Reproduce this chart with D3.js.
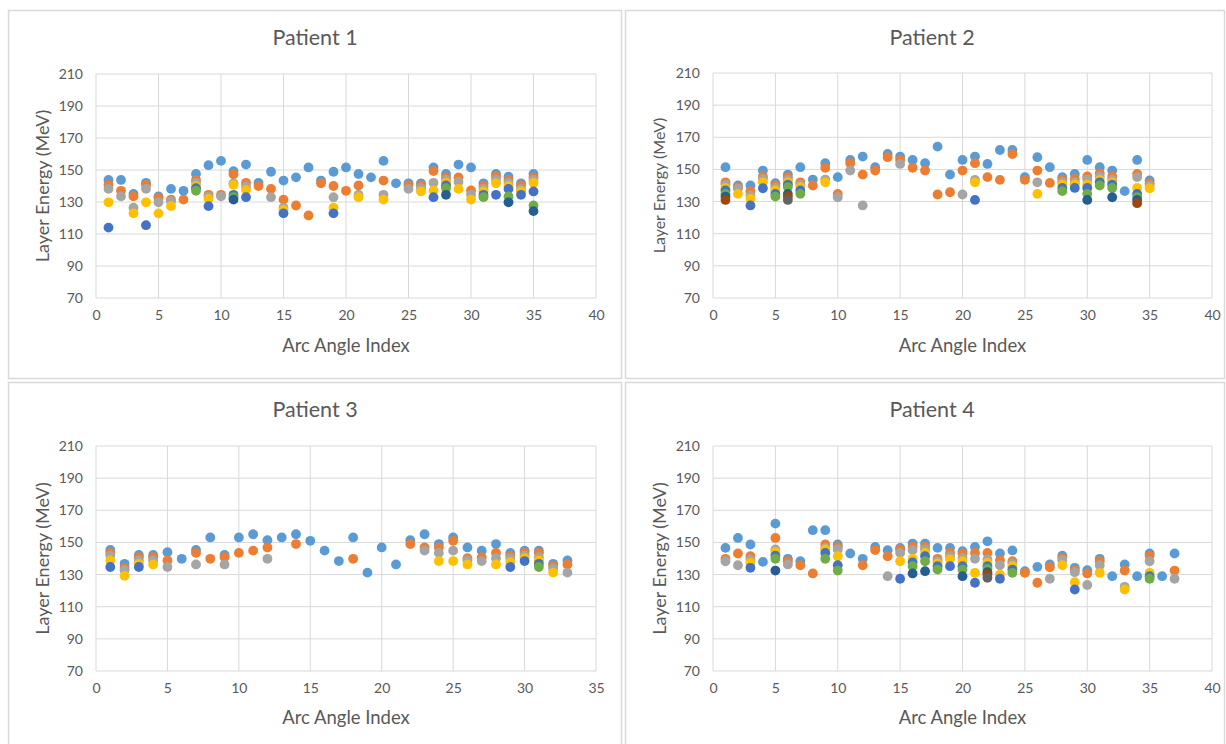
<!DOCTYPE html>
<html><head><meta charset="utf-8">
<script src="https://cdn.jsdelivr.net/npm/d3@7"></script>
<style>body{margin:0;background:#fff;} text{font-family:Lato,"Open Sans",sans-serif;}</style>
</head><body><svg id="c" width="1226" height="744"></svg>
<script>
// Layer energies (MeV) for each arc angle index (index 1..N), layers in series order
const patientTitles = ["Patient 1", "Patient 2", "Patient 3", "Patient 4"];
const seriesColors = ["#5B9BD5","#ED7D31","#A5A5A5","#FFC000","#4472C4","#70AD47","#255E91","#9E480E","#636363"];
const yTicks = [70, 90, 110, 130, 150, 170, 190, 210];
const xTicks1 = [0, 5, 10, 15, 20, 25, 30, 35, 40];
const xTicks3 = [0, 5, 10, 15, 20, 25, 30, 35];

const patient1 = [
 [143.8,140.7,138.2,129.8,114],
 [143.8,137,133.5],
 [135,133.5,126.4,122.9],
 [142,140.7,138.2,129.8,115.5],
 [133.5,132.5,129.8,122.9],
 [138.2,131.5,130.5,127.4],
 [137,131.5],
 [147.5,143.8,142,140,138.6,137],
 [153,134.5,133.5,131.9,127.4],
 [155.7,134.5,133.5],
 [149.3,147.3,141.7,140.7,134.5,133,131.5],
 [153.4,142,139.7,137.6,133],
 [142,140],
 [148.9,138.2,133],
 [143.4,131.5,126.4,125,122.9],
 [145.4,127.8],
 [151.6,121.6],
 [143.4,141.7],
 [148.9,140,133,126.4,122.9],
 [151.6,137],
 [147.5,140.3,134.5,133],
 [145.4],
 [155.7,143.4,134.5,131.5],
 [141.7],
 [141.7,140.3,138.2],
 [141.7,140.3,138.6,136.6],
 [151.6,149.3,142,137.2,133],
 [147.5,145.4,143.8,142,140.3,138.6,134.5],
 [153.4,145.4,142.7,138.2],
 [151.6,137.2,134.5,131.5],
 [141.7,140,138.2,136.6,134.5,133],
 [147.5,145.8,143.8,141.7,134.5],
 [145.8,143.8,142,140,138.2,133.5,129.8],
 [141.7,140.3,138.2,136.6,134.5],
 [147.5,145.4,143.8,142,136.6,127.8,124.3]
];
const patient2 = [
 [151.4,142,140.6,138.5,136.9,134.8,133.1,131],
 [140,139,138,134.8],
 [140,136.5,133.8,131.7,127.6],
 [149.3,145.6,144.1,142,138.3],
 [141.4,140,138.5,136.9,134.8,133.1],
 [146.8,145.2,143.5,142,140.5,139,134.8,133.1,131],
 [151.4,142,140.6,139,136.9,134.8],
 [143.7,140],
 [153.9,151,143.7,142],
 [145.2,134.8,132.7],
 [155.9,153.9,149.3],
 [158,146.8,127.6],
 [151.4,149.3],
 [159.6,157.6],
 [158,155.9,153.4],
 [155.9,151],
 [153.9,149.3],
 [164.2,134.4],
 [146.8,135.8],
 [155.9,149.3,134.4],
 [158,153.9,143.5,142,131],
 [153.4,145.2],
 [162.1,143.5],
 [162.1,159.6],
 [145.2,143.5],
 [157.6,149.3,142,134.8],
 [151.4,141.6],
 [145.2,143.7,142,140.6,138.5,136.5],
 [147.2,144.1,142,140.6,138.5],
 [155.9,145.6,143.7,140.6,138.5,134.8,131],
 [151.4,147.6,145.6,143.5,142,140],
 [149.3,145.6,143.7,142,140.6,138.5,132.7],
 [136.5],
 [155.9,147.2,145.2,138.5,134.8,132.7,131,129],
 [143.1,141.4,140,138.3]
];
const patient3 = [
 [145.3,143.5,141.8,138.8,134.7],
 [136.7,134.1,132.7,129.2],
 [142.2,140.8,138.8,136.7,134.7],
 [142.2,140.8,138.8,136.3],
 [143.9,138.8,134.7],
 [139.8],
 [145.3,143.5,136.3],
 [153.1,139.8],
 [142.2,140.8,136.3],
 [153.1,143.5],
 [155.1,144.9],
 [151.4,146.9,139.8],
 [153.1],
 [155.1,149],
 [151],
 [144.9],
 [138.4],
 [153.1,139.8],
 [131.2],
 [146.9],
 [136.3],
 [151.4,149],
 [155.1,146.9,144.9],
 [149,146.9,143.5,138.4],
 [153.1,151,144.9,138.4],
 [146.9,140.2,138.8,136.3],
 [144.9,140.8,138.4],
 [149,143.5,140.2,136.3],
 [143.5,141.8,140.2,137.8,134.7],
 [144.9,143.5,141.8,140.2,138.4],
 [144.9,143.5,140.8,138.8,136.7,134.7],
 [136.7,135.3,133.7,131.2],
 [138.8,136.3,131.2]
];
const patient4 = [
 [146.6,139.8,138.3],
 [152.8,143.1,135.8],
 [148.7,141.4,139.4,137.3,134.2],
 [137.9],
 [161.7,152.8,145.6,144.1,141.8,139.8,132.5],
 [139.8,138.3,136.3],
 [138.3,135.8],
 [157.6,130.7],
 [157.6,148.7,146.6,145.6,143.5,139.8],
 [148.7,147.2,145.6,141.4,135.8,132.5],
 [143.1],
 [139.8,135.8],
 [147.2,145.2],
 [145.2,141.4,129],
 [146.6,145.6,143.5,138.3,127.4],
 [149.3,147.2,145.2,139.8,137.5,135.2,130.7],
 [149.3,147.2,145.6,143.5,141.4,138.3,132.1],
 [146.6,139.8,138.3,136.9,135.2,133.1],
 [146.6,143.5,141.4,139.4,135.2],
 [144.5,143.1,140.4,138.3,135.2,133.1,129],
 [147.2,143.5,139.8,131.1,124.9],
 [150.7,143.5,139.4,137.3,135.2,133.6,131.5,130,128],
 [143.1,138.9,135.8,130,127.4],
 [145,138.3,136.9,135.2,133.1,131.1],
 [132.1,131.1],
 [134.8,124.9],
 [136.3,134.6,127.4],
 [141.8,140.4,138.9,135.8],
 [134.2,132.7,131.5,125.3,120.7],
 [132.7,130.7,123.5],
 [139.8,138.3,135.8,131.1],
 [129],
 [136.3,132.5,122.4,120.7],
 [129],
 [143.1,141.8,138.3,131.1,129,127.4],
 [129],
 [143.1,132.5,127.4]
];

const panels = [
 {data: patient1, title: patientTitles[0], box:[8,10,613,368], plot:[96,74,596,298], xMax:40, xt:xTicks1, titleX:315, titleY:40, yTitleX:44, yTitleSize:18, xTitleY:347},
 {data: patient2, title: patientTitles[1], box:[625,10,599,368], plot:[713,73,1212,298], xMax:40, xt:xTicks1, titleX:932, titleY:40, yTitleX:661, yTitleSize:16, xTitleY:347},
 {data: patient3, title: patientTitles[2], box:[8,382,613,372], plot:[96,446,596,671], xMax:35, xt:xTicks3, titleX:315, titleY:412, yTitleX:44, yTitleSize:18, xTitleY:719},
 {data: patient4, title: patientTitles[3], box:[625,382,599,372], plot:[713,446,1212,671], xMax:40, xt:xTicks1, titleX:932, titleY:412, yTitleX:661, yTitleSize:18, xTitleY:719}
];

const svg = d3.select("#c");
const textCol = "#595959", gridCol = "#D9D9D9";

panels.forEach(p => {
  const g = svg.append("g");
  g.append("rect").attr("x", p.box[0]+0.5).attr("y", p.box[1]+0.5)
    .attr("width", p.box[2]).attr("height", p.box[3])
    .attr("fill", "#fff").attr("stroke", "#D9D9D9").attr("stroke-width", 1.5);
  const [x0, y0, x1, y1] = p.plot;
  const x = d3.scaleLinear().domain([0, p.xMax]).range([x0, x1]);
  const y = d3.scaleLinear().domain([70, 210]).range([y1, y0]);

  // gridlines
  g.append("g").selectAll("line").data(yTicks).join("line")
    .attr("x1", x0).attr("x2", x1).attr("y1", d => y(d)).attr("y2", d => y(d))
    .attr("stroke", gridCol).attr("stroke-width", 1);
  g.append("g").selectAll("line").data(p.xt).join("line")
    .attr("y1", y0).attr("y2", y1).attr("x1", d => x(d)).attr("x2", d => x(d))
    .attr("stroke", gridCol).attr("stroke-width", 1);

  // axes (labels only)
  const ya = g.append("g").attr("transform", `translate(${x0},0)`)
    .call(d3.axisLeft(y).tickValues(yTicks).tickSize(0).tickPadding(13));
  ya.select(".domain").remove();
  ya.selectAll("text").attr("fill", textCol).style("font-size", "14px").style("font-family", "Lato");
  const xa = g.append("g").attr("transform", `translate(0,${y1})`)
    .call(d3.axisBottom(x).tickValues(p.xt).tickSize(0).tickPadding(12));
  xa.select(".domain").remove();
  xa.selectAll("text").attr("fill", textCol).style("font-size", "14px").style("font-family", "Lato");

  // series: layer k across arc indices
  const nSeries = d3.max(p.data, d => d.length);
  for (let k = 0; k < nSeries; k++) {
    const pts = [];
    p.data.forEach((vals, i) => { if (vals[k] != null) pts.push([i + 1, vals[k]]); });
    g.append("g").selectAll("circle").data(pts).join("circle")
      .attr("cx", d => x(d[0])).attr("cy", d => y(d[1])).attr("r", 4.9)
      .attr("fill", seriesColors[k]);
  }

  // titles
  g.append("text").attr("x", p.titleX).attr("y", p.titleY).attr("text-anchor", "middle")
    .attr("dominant-baseline", "middle").attr("fill", textCol).style("font-size", "21.5px").text(p.title);
  g.append("text").attr("x", (x0 + x1) / 2).attr("y", p.xTitleY).attr("text-anchor", "middle")
    .attr("dominant-baseline", "middle").attr("fill", textCol).style("font-size", "18.5px").text("Arc Angle Index");
  g.append("text").attr("transform", `translate(${p.yTitleX},${(y0 + y1) / 2}) rotate(-90)`)
    .attr("text-anchor", "middle").attr("dominant-baseline", "middle").attr("fill", textCol)
    .style("font-size", p.yTitleSize + "px").text("Layer Energy (MeV)");
});
</script></body></html>
